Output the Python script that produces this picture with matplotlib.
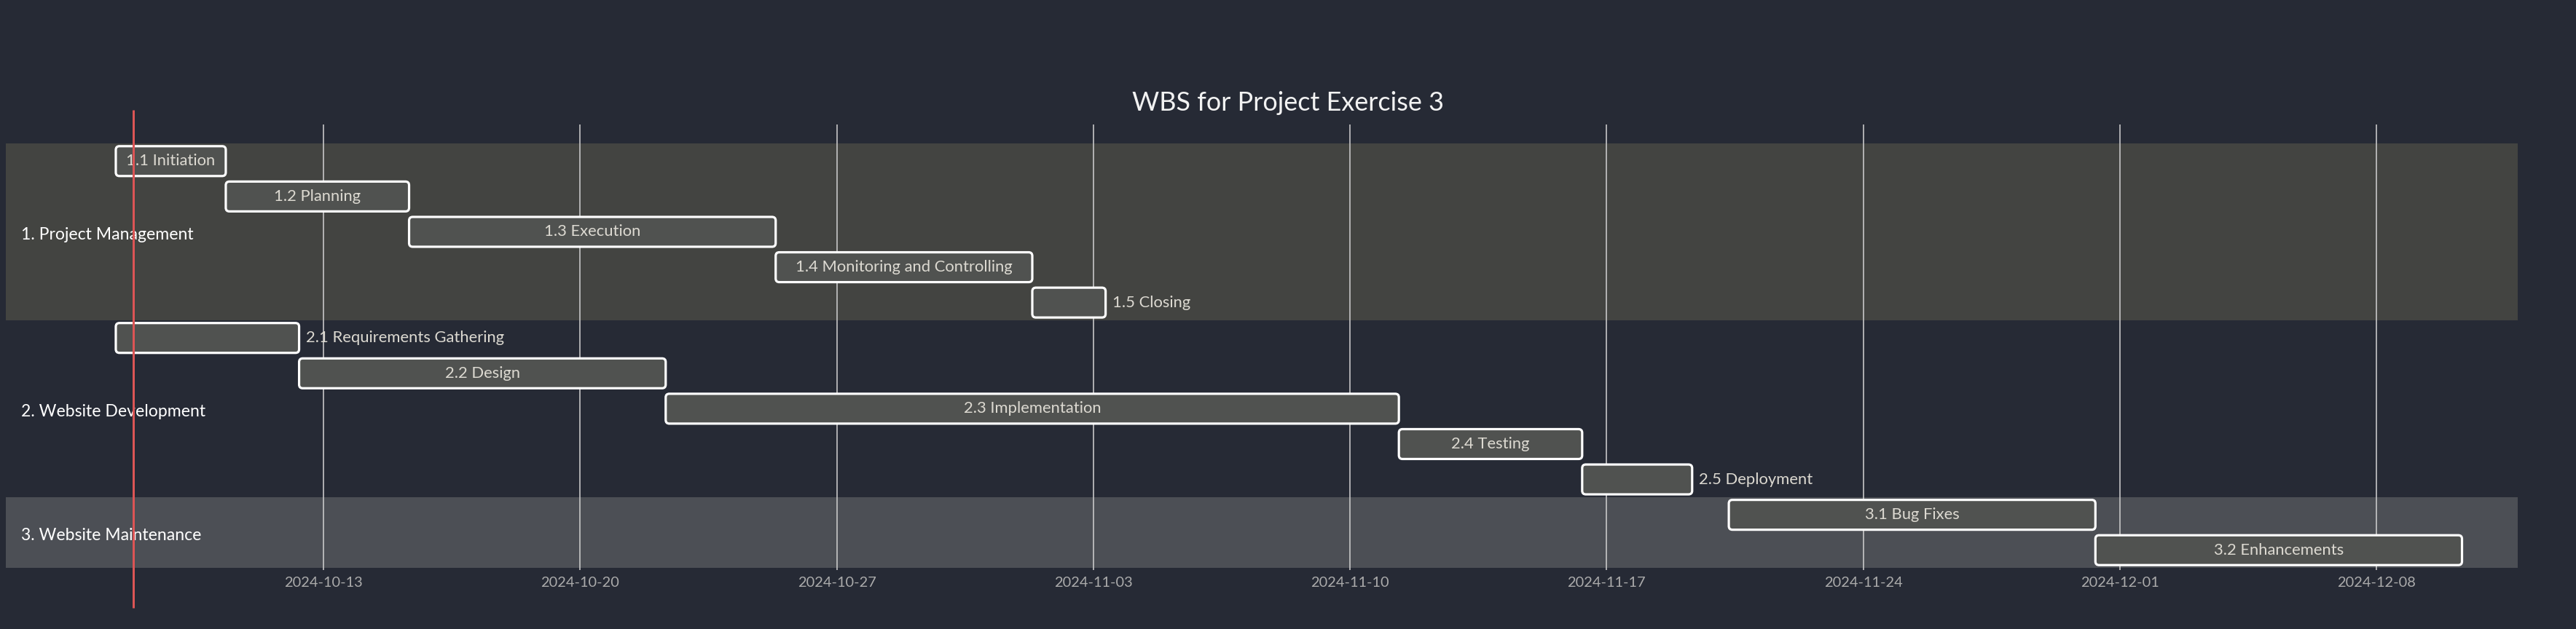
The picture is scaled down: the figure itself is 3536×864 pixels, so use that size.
import matplotlib
matplotlib.use("Agg")
import matplotlib.pyplot as plt
import matplotlib.dates as mdates
from matplotlib.patches import FancyBboxPatch
import pandas as pd

# ---------------- data ----------------
title = "WBS for Project Exercise 3"
sections = ["1. Project Management", "2. Website Development", "3. Website Maintenance"]
task_section = [0, 0, 0, 0, 0, 1, 1, 1, 1, 1, 2, 2]
task_names = [
    "1.1 Initiation", "1.2 Planning", "1.3 Execution", "1.4 Monitoring and Controlling",
    "1.5 Closing", "2.1 Requirements Gathering", "2.2 Design", "2.3 Implementation",
    "2.4 Testing", "2.5 Deployment", "3.1 Bug Fixes", "3.2 Enhancements",
]
task_starts_utc = [
    "2024-10-07", "2024-10-10", "2024-10-15", "2024-10-25", "2024-11-01",
    "2024-10-07", "2024-10-12", "2024-10-22", "2024-11-11", "2024-11-16",
    "2024-11-20", "2024-11-30",
]
task_days = [3, 5, 10, 7, 2, 5, 10, 20, 5, 3, 10, 10]
label_outside = [False, False, False, False, True, True, False, False, False, True, False, False]
today_utc = "2024-10-07 11:20"
display_utc_offset_hours = 8          # ticks are drawn at local midnight (UTC+8)

# ---------------- style ----------------
W, H, DPI = 3536, 864, 100
BG = "#262a35"
SECTION_COLORS = ["#434441", BG, "#4c4f55"]
BAR_FILL = "#505250"
BAR_EDGE = "#ffffff"
TASK_TEXT = "#dcd9d1"
SECTION_TEXT = "#ffffff"
TICK_TEXT = "#ababab"
GRID = "#cccccc"
TODAY = "#dc5555"
FONT = ["Lato", "DejaVu Sans"]
PT = 72.0 / DPI


def px(v):
    return v * PT


plt.rcParams["font.family"] = FONT

fig = plt.figure(figsize=(W / DPI, H / DPI), dpi=DPI, facecolor=BG)
ax_left, ax_right, ax_top, ax_bottom = 8, 3456, 197, 780
ax = fig.add_axes([ax_left / W, (H - ax_bottom) / H,
                   (ax_right - ax_left) / W, (ax_bottom - ax_top) / H])
ax.set_facecolor("none")
for s in ax.spines.values():
    s.set_visible(False)

offset = pd.Timedelta(hours=display_utc_offset_hours)
starts = pd.to_datetime(task_starts_utc) + offset
ends = starts + pd.to_timedelta(task_days, unit="D")
x0 = mdates.date2num(starts)
x1 = mdates.date2num(ends)
today_x = mdates.date2num(pd.Timestamp(today_utc) + offset)

n = len(task_names)
xmin = x0.min() - 3.0
xmax = x1.max() + 1.52
ax.set_xlim(xmin, xmax)
ax.set_ylim(n, 0)

px_per_day = (ax_right - ax_left) / (xmax - xmin)
px_per_row = (ax_bottom - ax_top) / n

# section backgrounds
for si, name in enumerate(sections):
    rows = [i for i, s in enumerate(task_section) if s == si]
    r0, r1 = min(rows), max(rows) + 1
    ax.axhspan(r0, r1, color=SECTION_COLORS[si], lw=0, zorder=0)
    ax.text(xmin + (29 - ax_left) / px_per_day, (r0 + r1) / 2 + 4 / px_per_row,
            name, ha="left", va="center", color=SECTION_TEXT, fontsize=px(23), zorder=5)

# time axis (ticks only within the task domain)
ax.xaxis.set_major_locator(mdates.WeekdayLocator(byweekday=mdates.SU))
ax.xaxis.set_major_formatter(mdates.DateFormatter("%Y-%m-%d"))
ax.set_xlim(xmin, xmax)
locs = [l for l in ax.get_xticks() if x0.min() <= l <= x1.max()]
ax.set_xticks(locs)
ax.tick_params(axis="x", length=0, pad=px(12), labelsize=px(20), labelcolor=TICK_TEXT)
ax.tick_params(axis="y", left=False, labelleft=False)
ax.set_xlim(xmin, xmax)
ax.vlines(locs, (171 - ax_top) / px_per_row, (783 - ax_top) / px_per_row,
          colors=GRID, lw=px(1.6), zorder=1, clip_on=False)

# task bars
bar_h = 41 / px_per_row
r_days = 5 / px_per_day
aspect = px_per_day / px_per_row
for i in range(n):
    yc = i + 0.5
    patch = FancyBboxPatch((x0[i], yc - bar_h / 2), x1[i] - x0[i], bar_h,
                           boxstyle=f"round,pad=0,rounding_size={r_days}",
                           mutation_aspect=aspect, fc=BAR_FILL, ec=BAR_EDGE,
                           lw=px(3.2), zorder=3)
    ax.add_patch(patch)
    if label_outside[i]:
        ax.text(x1[i] + 9 / px_per_day, yc, task_names[i], ha="left", va="center",
                color=TASK_TEXT, fontsize=px(22), zorder=4)
    else:
        ax.text((x0[i] + x1[i]) / 2, yc, task_names[i], ha="center", va="center",
                color=TASK_TEXT, fontsize=px(22), zorder=4)

# today marker
ax.vlines([today_x], (151 - ax_top) / px_per_row, (835 - ax_top) / px_per_row,
          colors=TODAY, lw=px(3), zorder=6, clip_on=False)

fig.text(0.5, (H - 152) / H, title, ha="center", va="baseline",
         color="#f2f2f2", fontsize=px(36))

fig.savefig("out.png", dpi=DPI, facecolor=BG)
